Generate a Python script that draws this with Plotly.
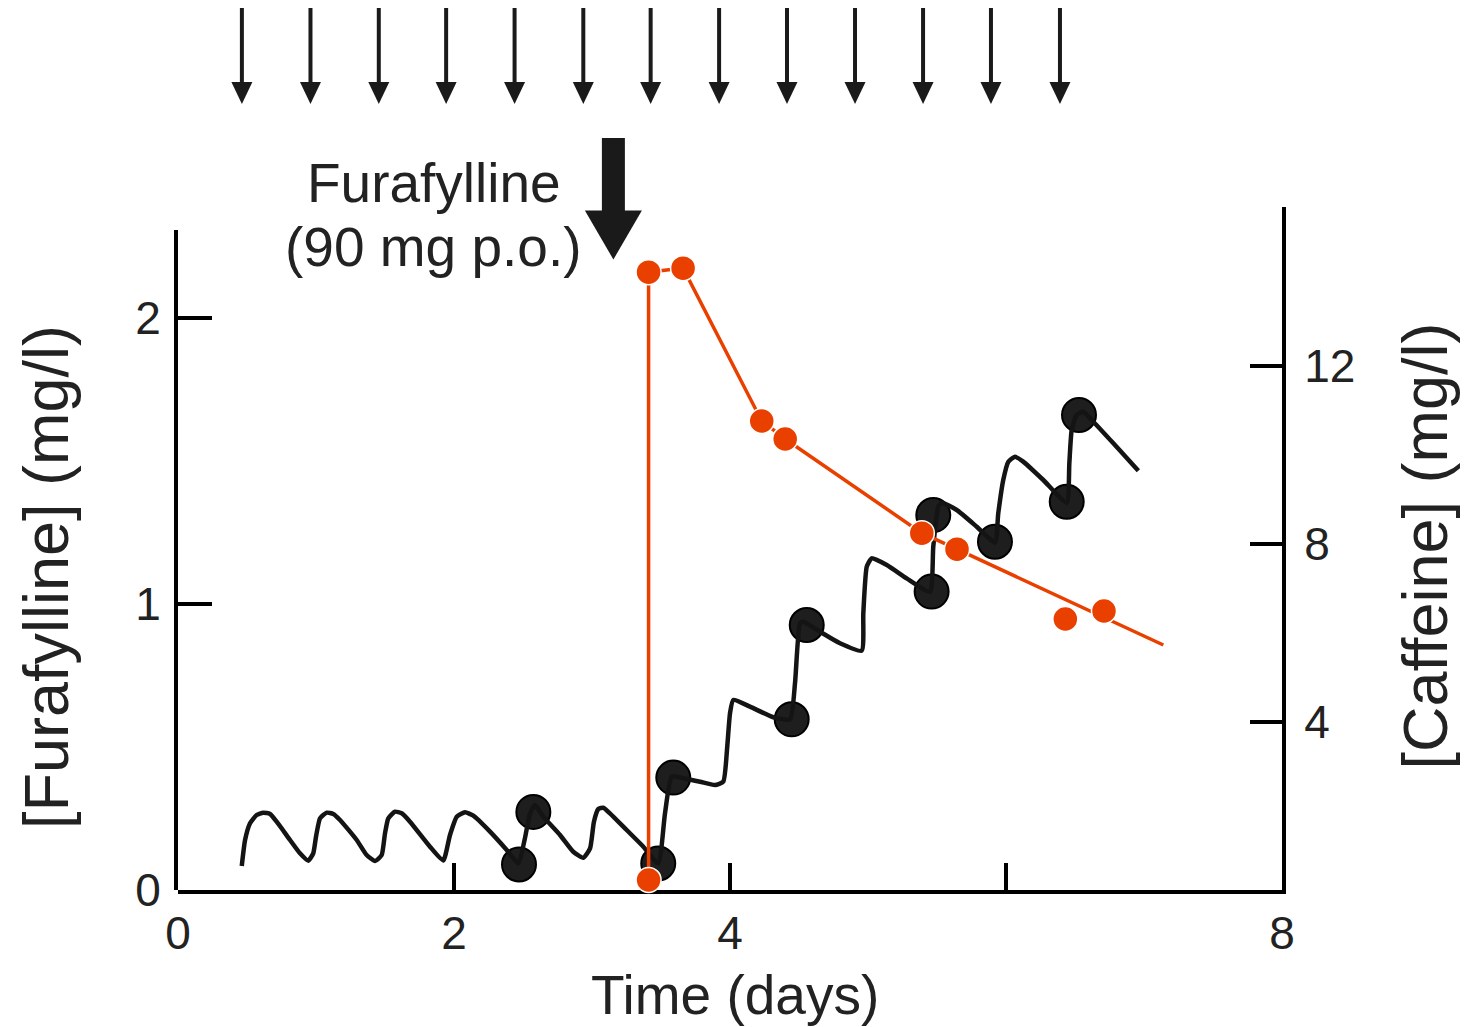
import plotly.graph_objects as go

# ---------------- data ----------------
# caffeine concentration-time curve (right axis, mg/l), time in days
caf_curve_t = [0.462, 0.486, 0.522, 0.570, 0.618, 0.667, 0.715, 0.812, 0.884, 0.944,
               0.980, 1.000, 1.029, 1.078, 1.125, 1.174, 1.295, 1.367, 1.428,
               1.476, 1.500, 1.524, 1.572, 1.621, 1.681, 1.826, 1.922,
               1.971, 2.020, 2.080, 2.140, 2.261, 2.382, 2.466,
               2.514, 2.551, 2.587, 2.647, 2.768, 2.864, 2.937,
               2.986, 3.014, 3.046, 3.082, 3.130, 3.251, 3.372, 3.480,
               3.529, 3.578, 3.662, 3.783, 3.891, 3.951,
               3.980, 4.000, 4.024, 4.145, 4.314, 4.435,
               4.471, 4.507, 4.531, 4.652, 4.797, 4.954,
               4.966, 4.991, 5.027, 5.136, 5.280, 5.449,
               5.473, 5.509, 5.534, 5.643, 5.788, 5.920,
               5.944, 5.980, 6.017, 6.065, 6.125, 6.270, 6.440,
               6.459, 6.476, 6.512, 6.560, 6.633, 6.778, 6.959]
caf_curve_c = [0.764, 1.348, 1.724, 1.910, 1.962, 1.933, 1.760, 1.348, 1.049, 0.883,
               1.049, 1.422, 1.836, 1.962, 1.933, 1.798, 1.348, 1.011, 0.876,
               1.011, 1.499, 1.836, 1.984, 1.948, 1.760, 1.198, 0.888,
               1.461, 1.872, 1.971, 1.894, 1.535, 1.124, 0.825,
               1.387, 1.948, 2.135, 1.872, 1.461, 1.085, 0.951,
               1.162, 1.760, 2.045, 2.074, 1.948, 1.573, 1.198, 0.825,
               1.948, 2.771, 2.735, 2.658, 2.584, 2.658,
               3.445, 4.196, 4.494, 4.344, 4.106, 4.061,
               4.870, 6.218, 6.254, 6.029, 5.769, 5.602,
               6.443, 7.490, 7.679, 7.528, 7.229, 6.928,
               7.939, 8.838, 8.928, 8.764, 8.389, 8.034,
               8.690, 9.438, 9.850, 9.962, 9.850, 9.438, 8.928,
               9.813, 10.562, 10.899, 10.973, 10.748, 10.263, 9.647]

# measured caffeine concentrations (black dots)
caf_obs_t = [2.471, 2.575, 3.480, 3.589, 4.447, 4.556, 5.461, 5.473, 5.920, 6.440, 6.529]
caf_obs_c = [0.80, 1.98, 0.82, 2.75, 4.06, 6.18, 6.93, 8.65, 8.05, 8.95, 10.90]

# measured furafylline concentrations (red dots, left axis, mg/l)
fura_obs_t = [3.41, 3.41, 3.66, 4.23, 4.40, 5.39, 5.645, 6.43, 6.71]
fura_obs_c = [0.035, 2.159, 2.173, 1.639, 1.576, 1.247, 1.191, 0.947, 0.975]

# furafylline line (connected points + terminal decline)
fura_line_t = [3.41, 3.41, 3.66, 4.23, 4.40, 5.39, 5.645, 7.14]
fura_line_c = [0.035, 2.159, 2.173, 1.639, 1.576, 1.247, 1.191, 0.856]

# dosing times (days)
caffeine_doses = [0.463, 0.960, 1.455, 1.943, 2.439, 2.937, 3.425, 3.921,
                  4.413, 4.906, 5.399, 5.891, 6.391]
furafylline_dose = 3.155

# ticks
x_tickvals = [0, 2, 4, 6, 8]
x_ticktext = ["0", "2", "4", "", "8"]
fura_tickvals = [0, 1, 2]
caf_tickvals = [4, 8, 12]

# ---------------- styling / layout ----------------
W, H = 1466, 1027
L, R, T, B = 178, 184, 207, 137
PLOT_H = H - T - B          # 683
PX_PER_DAY = (W - L - R) / 8.0
FONT = "Liberation Sans, Arial, sans-serif"
TXT = "#222222"
RED = "#E94000"
BLK = "#141414"


def py(p):
    """pixel row -> paper y"""
    return (H - B - p) / PLOT_H


def px(p):
    """pixel column -> paper x"""
    return (p - L) / (W - L - R)


fig = go.Figure()

fig.add_trace(go.Scatter(
    x=caf_obs_t, y=caf_obs_c, mode="markers", yaxis="y", xaxis="x",
    marker=dict(size=34, color="#1e1e1e", line=dict(color="#000000", width=2)),
    cliponaxis=False, showlegend=False))
fig.add_trace(go.Scatter(
    x=caf_curve_t, y=caf_curve_c, mode="lines", yaxis="y", xaxis="x",
    line=dict(color=BLK, width=4.5, shape="spline", smoothing=0.5),
    cliponaxis=False, showlegend=False))
fig.add_trace(go.Scatter(
    x=fura_line_t, y=fura_line_c, mode="lines", yaxis="y2", xaxis="x",
    line=dict(color=RED, width=3.5), cliponaxis=False, showlegend=False))
fig.add_trace(go.Scatter(
    x=fura_obs_t, y=fura_obs_c, mode="markers", yaxis="y2", xaxis="x",
    marker=dict(size=25, color=RED, line=dict(color="white", width=1.5)),
    cliponaxis=False, showlegend=False))

shapes = []
# small caffeine dose arrows
hw = 10.5 / PX_PER_DAY
for d in caffeine_doses:
    shapes.append(dict(type="line", xref="x", yref="paper", x0=d, x1=d,
                       y0=py(8), y1=py(86), line=dict(color="#1a1a1a", width=4)))
    shapes.append(dict(type="path", xref="x", yref="paper",
                       path=f"M {d-hw},{py(82)} L {d+hw},{py(82)} L {d},{py(104)} Z",
                       fillcolor="#1a1a1a", line=dict(width=0)))
# big furafylline arrow
f = furafylline_dose
sw = 11.5 / PX_PER_DAY
bw = 28.5 / PX_PER_DAY
shapes.append(dict(type="rect", xref="x", yref="paper", x0=f - sw, x1=f + sw,
                   y0=py(212), y1=py(138), fillcolor="#1a1a1a", line=dict(width=0)))
shapes.append(dict(type="path", xref="x", yref="paper",
                   path=f"M {f-bw},{py(210.5)} L {f+bw},{py(210.5)} L {f},{py(259.5)} Z",
                   fillcolor="#1a1a1a", line=dict(width=0)))

annotations = [
    dict(text="Furafylline", x=px(434), y=py(182.5), xref="paper", yref="paper",
         showarrow=False, xanchor="center", yanchor="middle",
         font=dict(size=55, family=FONT, color=TXT)),
    dict(text="(90 mg p.o.)", x=px(433.5), y=py(247.5), xref="paper", yref="paper",
         showarrow=False, xanchor="center", yanchor="middle",
         font=dict(size=55, family=FONT, color=TXT)),
    dict(text="Time (days)", x=px(734.5), y=py(995), xref="paper", yref="paper",
         showarrow=False, xanchor="center", yanchor="middle",
         font=dict(size=55, family=FONT, color=TXT)),
    dict(text="[Furafylline] (mg/l)", x=px(46), y=py(577), xref="paper", yref="paper",
         showarrow=False, xanchor="center", yanchor="middle", textangle=-90,
         font=dict(size=63, family=FONT, color=TXT)),
    dict(text="[Caffeine] (mg/l)", x=px(1424), y=py(546.5), xref="paper", yref="paper",
         showarrow=False, xanchor="center", yanchor="middle", textangle=-90,
         font=dict(size=63, family=FONT, color=TXT)),
]

axis_common = dict(showline=True, linecolor="black", linewidth=4, ticks="inside",
                   tickcolor="black", tickwidth=4, showgrid=False, zeroline=False,
                   tickfont=dict(size=46, family=FONT, color=TXT))

fig.update_layout(
    width=W, height=H, autosize=False,
    margin=dict(l=L, r=R, t=T, b=B, pad=0),
    paper_bgcolor="white", plot_bgcolor="rgba(0,0,0,0)",
    showlegend=False,
    xaxis=dict(domain=[0, 1], range=[0, 8], anchor="y", tickvals=x_tickvals,
               ticktext=x_ticktext, ticklen=27, **axis_common),
    yaxis=dict(domain=[0, 1], range=[0.2247, 15.573], anchor="x", side="right",
               tickvals=caf_tickvals, ticklen=32, ticklabelstandoff=9, **axis_common),
    yaxis2=dict(domain=[0, (H - B - 229.5) / PLOT_H], range=[0, 2.308], anchor="x",
                side="left", tickvals=fura_tickvals, ticklen=34, ticklabelstandoff=4,
                **axis_common),
    shapes=shapes,
    annotations=annotations,
)

fig.write_html("out.html")
